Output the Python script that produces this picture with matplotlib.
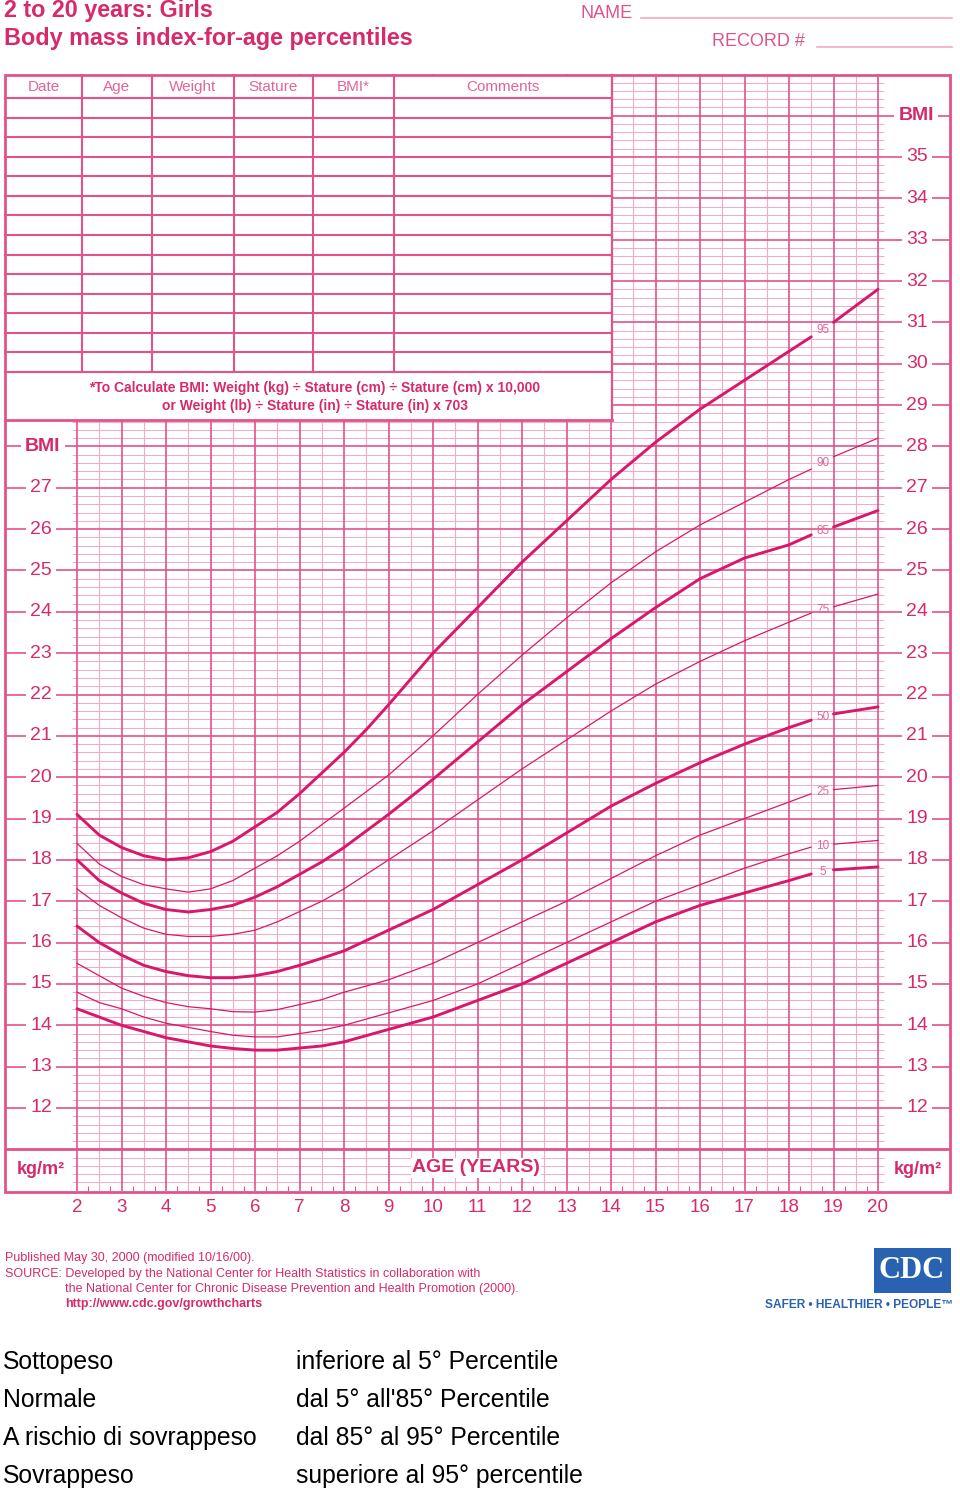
import matplotlib
matplotlib.use("Agg")
import matplotlib.pyplot as plt
import numpy as np
from matplotlib.patches import Rectangle

plt.rcParams['font.family'] = ['Liberation Sans', 'DejaVu Sans']

# percentile curves (BMI, kg/m2)
ages = [2, 2.5, 3, 3.5, 4, 4.5, 5, 5.5, 6, 6.5, 7, 7.5, 8, 8.5, 9, 10, 11, 12, 13, 14,
        15, 16, 17, 18, 18.5, 19, 20]
p95 = [19.1, 18.6, 18.3, 18.1, 18.0, 18.05, 18.2, 18.45, 18.8, 19.15, 19.6, 20.1, 20.6, 21.15,
       21.75, 23.0, 24.1, 25.2, 26.2, 27.2, 28.1, 28.9, 29.6, 30.3, 30.65, 31.0, 31.8]
p90 = [18.4, 17.9, 17.6, 17.4, 17.3, 17.22, 17.3, 17.5, 17.8, 18.1, 18.45, 18.85, 19.25, 19.65,
       20.05, 21.0, 22.0, 22.95, 23.85, 24.7, 25.45, 26.1, 26.65, 27.2, 27.45, 27.75, 28.2]
p85 = [18.0, 17.5, 17.2, 16.95, 16.8, 16.74, 16.8, 16.9, 17.1, 17.35, 17.65, 17.95, 18.3, 18.7,
       19.1, 19.95, 20.85, 21.75, 22.55, 23.35, 24.1, 24.8, 25.3, 25.62, 25.86, 26.05, 26.45]
p75 = [17.3, 16.9, 16.6, 16.35, 16.2, 16.15, 16.15, 16.2, 16.3, 16.5, 16.75, 17.0, 17.3, 17.65,
       18.0, 18.7, 19.45, 20.2, 20.9, 21.6, 22.25, 22.8, 23.3, 23.75, 23.97, 24.12, 24.43]
p50 = [16.4, 16.0, 15.7, 15.45, 15.3, 15.2, 15.15, 15.15, 15.2, 15.3, 15.45, 15.62, 15.8, 16.05,
       16.3, 16.8, 17.4, 18.0, 18.65, 19.3, 19.85, 20.35, 20.8, 21.2, 21.38, 21.53, 21.7]
p25 = [15.5, 15.2, 14.9, 14.7, 14.55, 14.45, 14.4, 14.33, 14.32, 14.38, 14.5, 14.62, 14.8, 14.95,
       15.1, 15.5, 16.0, 16.5, 17.0, 17.55, 18.1, 18.6, 19.0, 19.4, 19.6, 19.7, 19.8]
p10 = [14.8, 14.55, 14.4, 14.2, 14.05, 13.95, 13.85, 13.76, 13.72, 13.72, 13.8, 13.88, 14.0, 14.15,
       14.3, 14.6, 15.0, 15.5, 16.0, 16.5, 17.0, 17.4, 17.8, 18.15, 18.31, 18.38, 18.47]
p5 = [14.4, 14.2, 14.0, 13.85, 13.7, 13.6, 13.5, 13.44, 13.4, 13.4, 13.45, 13.5, 13.6, 13.75,
      13.9, 14.2, 14.6, 15.0, 15.5, 16.0, 16.5, 16.9, 17.2, 17.5, 17.66, 17.76, 17.83]

curves = [("95", p95, True), ("90", p90, False), ("85", p85, True), ("75", p75, False),
          ("50", p50, True), ("25", p25, False), ("10", p10, False), ("5", p5, True)]

age_ticks = list(range(2, 21))
left_bmi = list(range(12, 28))
right_bmi = list(range(12, 36))

col_names = ["Date", "Age", "Weight", "Stature", "BMI*", "Comments"]
legend_left = ["Sottopeso", "Normale", "A rischio di sovrappeso", "Sovrappeso"]
legend_right = ["inferiore al 5° Percentile", "dal 5° all'85° Percentile",
                "dal 85° al 95° Percentile", "superiore al 95° percentile"]

PINK = '#d62a6c'
MAJ = '#e2538c'
MIN = '#f4a9c6'
CURVE = '#d8186a'

W, H = 960, 1493
X0, XS = 77, 44.5     # pixel of age 2, pixels per year
Y0, YS = 1108, 41.35  # pixel of BMI 12, pixels per BMI unit


def a_of(px):
    return 2 + (px - X0) / XS


def b_of(py):
    return 12 + (Y0 - py) / YS


fig = plt.figure(figsize=(9.6, 14.93), dpi=100)
ax = fig.add_axes([0, 0, 1, 1])
ax.set_xlim(a_of(0), a_of(W))
ax.set_ylim(b_of(H), b_of(0))
ax.axis('off')

# grid
bmin, bmax = 10, 37
minor_h = [v for v in np.arange(bmin, bmax + 0.001, 0.2) if abs(v - round(v)) > 0.01]
ax.hlines(minor_h, a_of(72), a_of(884), color=MIN, lw=0.7, zorder=1)
ax.vlines(np.arange(2.5, 20, 1.0), bmin, bmax, color=MIN, lw=0.8, zorder=1)
ax.vlines(age_ticks, bmin, bmax, color=MAJ, lw=1.2, zorder=2)
ax.hlines(range(12, 37), a_of(5), a_of(950), color=MAJ, lw=1.2, zorder=2)
ax.hlines([11], a_of(5), a_of(950), color=MAJ, lw=2.0, zorder=2)
qt = [a + q for a in range(2, 20) for q in (0.25, 0.75)]
ax.vlines(qt, bmin, bmin + 0.12, color=MAJ, lw=0.8, zorder=2)

# curves with a gap for the label
ages_a = np.array(ages)
for name, vals, thick in curves:
    v = np.array(vals)
    lw = 2.1 if thick else 0.9
    m1 = ages_a <= 18.5
    m2 = ages_a >= 19
    ax.plot(ages_a[m1], v[m1], color=CURVE, lw=lw, solid_capstyle='round',
            solid_joinstyle='round', zorder=4)
    ax.plot(ages_a[m2], v[m2], color=CURVE, lw=lw, solid_capstyle='round',
            solid_joinstyle='round', zorder=4)
    ax.text(18.76, (v[ages_a == 18.5][0] + v[ages_a == 19][0]) / 2, name, fontsize=8.5,
            color='#e0659c', ha='center', va='center', zorder=5)

# overlay in pixel coordinates
ov = fig.add_axes([0, 0, 1, 1], zorder=3)
ov.set_xlim(0, W)
ov.set_ylim(H, 0)
ov.axis('off')
ov.patch.set_alpha(0)

ov.add_patch(Rectangle((5, 75), 607, 345, fc='white', ec='none', zorder=1))
ov.add_patch(Rectangle((5, 75), 945, 1117, fc='none', ec=MAJ, lw=2.0, zorder=3))
ov.plot([5, 612], [420, 420], color=MAJ, lw=2.0, zorder=3)
ov.plot([612, 612], [75, 420], color=MAJ, lw=1.6, zorder=3)

# record table
col_x = [5, 82, 152, 234, 313, 394, 612]
row_y = np.linspace(98, 372, 15)
for y in row_y:
    ov.plot([5, 612], [y, y], color=MAJ, lw=1.5, zorder=3)
for x in col_x[1:-1]:
    ov.plot([x, x], [75, 372], color=MAJ, lw=1.5, zorder=3)
for i, name in enumerate(col_names):
    ov.text((col_x[i] + col_x[i + 1]) / 2, 87, name, fontsize=11, color='#e2649a',
            ha='center', va='center', zorder=4)
ov.text(315, 388, "*To Calculate BMI: Weight (kg) ÷ Stature (cm) ÷ Stature (cm) x 10,000",
        fontsize=10, fontweight='bold', color=PINK, ha='center', va='center', zorder=4)
ov.text(315, 406, "or Weight (lb) ÷ Stature (in) ÷ Stature (in) x 703",
        fontsize=10, fontweight='bold', color=PINK, ha='center', va='center', zorder=4)

# titles
ov.text(4, 11, "2 to 20 years: Girls", fontsize=16.8, fontweight='bold', color=PINK,
        ha='left', va='center')
ov.text(4, 39, "Body mass index-for-age percentiles", fontsize=16.8, fontweight='bold',
        color=PINK, ha='left', va='center')
ov.text(580, 13, "NAME", fontsize=13, color='#e0528c', ha='left', va='center')
ov.plot([641, 952], [18, 18], color=MIN, lw=1.2)
ov.text(712, 42, "RECORD #", fontsize=13, color='#e0528c', ha='left', va='center')
ov.plot([817, 952], [47, 47], color=MIN, lw=1.2)

# BMI labels on both sides
lab_box = dict(fc='white', ec='none', pad=3)
for b in left_bmi:
    ax.text(a_of(41), b, str(b), fontsize=14, color=PINK, ha='center', va='center',
            bbox=lab_box, zorder=6)
ax.text(a_of(43), 28, "BMI", fontsize=14, fontweight='bold', color=PINK, ha='center',
        va='center', bbox=lab_box, zorder=6)
for b in right_bmi:
    ov.text(917, Y0 - (b - 12) * YS, str(b), fontsize=14, color=PINK, ha='center',
            va='center', bbox=lab_box, zorder=6)
ov.text(916, Y0 - 24 * YS, "BMI", fontsize=14, fontweight='bold', color=PINK,
        ha='center', va='center', bbox=lab_box, zorder=6)

ov.text(41, 1170, "kg/m²", fontsize=13, fontweight='bold', color=PINK, ha='center', va='center')
ov.text(918, 1170, "kg/m²", fontsize=13, fontweight='bold', color=PINK, ha='center', va='center')
ov.text(476, 1168, "AGE (YEARS)", fontsize=14, fontweight='bold', color=PINK, ha='center',
        va='center', bbox=dict(fc='white', ec='none', pad=1), zorder=6)
for a in age_ticks:
    ax.text(a, b_of(1208), str(a), fontsize=13.5, color=PINK, ha='center', va='center')

# footer
ov.text(5, 1258, "Published May 30, 2000 (modified 10/16/00).", fontsize=9, color=PINK,
        ha='left', va='center')
ov.text(5, 1274, "SOURCE: Developed by the National Center for Health Statistics in collaboration with",
        fontsize=9, color=PINK, ha='left', va='center')
ov.text(65, 1289, "the National Center for Chronic Disease Prevention and Health Promotion (2000).",
        fontsize=9, color=PINK, ha='left', va='center')
ov.text(65, 1304, "http://www.cdc.gov/growthcharts", fontsize=9, fontweight='bold', color=PINK,
        ha='left', va='center')

ov.add_patch(Rectangle((874, 1248), 77, 45, fc='#2a62b2', ec='none'))
ov.text(912, 1271, "CDC", fontsize=22, fontweight='bold', family='Liberation Serif',
        color='white', ha='center', va='center')
ov.text(859, 1305, "SAFER • HEALTHIER • PEOPLE™", fontsize=8.6, fontweight='bold',
        color='#2a62b2', ha='center', va='center')

# legend
for i, (l, r) in enumerate(zip(legend_left, legend_right)):
    y = 1362 + i * 38
    ov.text(3, y, l, fontsize=17.8, color='black', ha='left', va='center')
    ov.text(296, y, r, fontsize=17.8, color='black', ha='left', va='center')

fig.savefig("out.png", dpi=100)
